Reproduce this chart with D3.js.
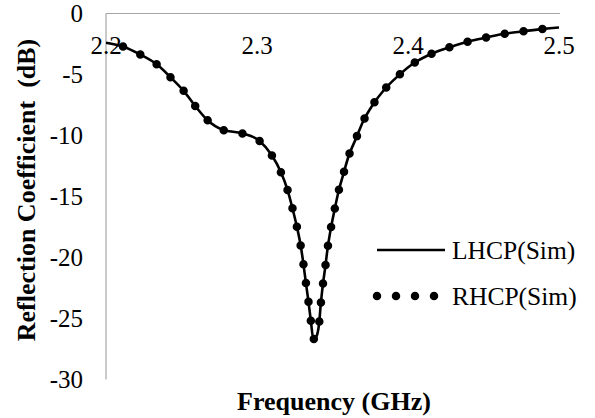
<!DOCTYPE html>
<html>
<head>
<meta charset="utf-8">
<script src="https://cdn.jsdelivr.net/npm/d3@7/dist/d3.min.js"></script>
<style>
  @font-face { font-family: "ChartSerif"; src: local("Liberation Serif"), local("LiberationSerif"), local("Times New Roman"); font-weight: normal; }
  @font-face { font-family: "ChartSerif"; src: local("Liberation Serif Bold"), local("LiberationSerif-Bold"), local("Times New Roman Bold"); font-weight: bold; }
</style>
</head>
<body style="margin:0;background:#fff">
<svg id="fig" width="595" height="418"></svg>
<script>
// ---- data ----
const freq = [2.2, 2.2115, 2.223, 2.2336, 2.2428, 2.2517, 2.2591, 2.2671, 2.2777, 2.2901,
  2.3015, 2.3097, 2.3157, 2.3201, 2.3234, 2.3263, 2.3288, 2.3307, 2.3323, 2.334,
  2.3356, 2.3373, 2.339, 2.3411, 2.3422, 2.3435, 2.3452, 2.3468, 2.3488, 2.3512,
  2.3538, 2.3572, 2.3607, 2.3654, 2.3704, 2.3766, 2.3841, 2.3929, 2.4028, 2.4137,
  2.4256, 2.4371, 2.4495, 2.4618, 2.4742, 2.4869, 2.5];
const lhcp = [-2.39, -2.72, -3.38, -4.16, -5.23, -6.38, -7.58, -8.73, -9.55, -9.82,
  -10.43, -11.6, -12.97, -14.41, -15.92, -17.42, -18.93, -20.48, -22.0, -23.54,
  -25.12, -26.68, -26.55, -25.45, -23.87, -22.34, -20.8, -19.21, -17.69, -16.19,
  -14.69, -13.16, -11.68, -10.29, -8.81, -7.5, -6.27, -5.18, -4.16, -3.4,
  -2.85, -2.39, -2.03, -1.70, -1.49, -1.30, -1.15];
const rhcp = lhcp.slice();
const xTicks = [2.2, 2.3, 2.4, 2.5];
const yTicks = [0, -5, -10, -15, -20, -25, -30];
const seriesNames = ["LHCP(Sim)", "RHCP(Sim)"];

// ---- layout ----
const svg = d3.select("#fig");
const mLeft = 106, mRight = 559, mTop = 13.5, mBottom = 379.5;
const x = d3.scaleLinear().domain([2.2, 2.5]).range([mLeft, mRight]);
const y = d3.scaleLinear().domain([-30, 0]).range([mBottom, mTop]);
const FAM = "'Liberation Serif', 'Times New Roman', Tinos, ChartSerif, serif";
const setFont = (sel, size, bold) => sel.style("font-family", FAM)
  .style("font-size", size + "px").style("font-weight", bold ? "bold" : "normal");

// axes lines (gray)
svg.append("line").attr("x1", mLeft).attr("x2", mRight + 1).attr("y1", y(0)).attr("y2", y(0))
  .attr("stroke", "#a6a6a6").attr("stroke-width", 1.2);
svg.append("line").attr("x1", mLeft).attr("x2", mLeft).attr("y1", mTop).attr("y2", mBottom)
  .attr("stroke", "#a6a6a6").attr("stroke-width", 1.2);

// y tick labels
setFont(svg.append("g").selectAll("text").data(yTicks).join("text")
  .attr("x", 83).attr("y", d => y(d) + 8.5).attr("text-anchor", "end"), 25, false)
  .text(d => String(d));

// x tick labels (below the 0 line)
setFont(svg.append("g").selectAll("text").data(xTicks).join("text")
  .attr("x", d => x(d)).attr("y", 54).attr("text-anchor", "middle"), 25, false)
  .text(d => d.toFixed(1));

// axis titles
setFont(svg.append("text").attr("transform", "translate(35,190) rotate(-90)")
  .attr("text-anchor", "middle"), 26, true)
  .style("white-space", "pre")
  .text("Reflection Coefficient  (dB)");
setFont(svg.append("text").attr("x", 334).attr("y", 410).attr("text-anchor", "middle"), 26, true)
  .text("Frequency (GHz)");

// series
const line = d3.line().x((d, i) => x(freq[i])).y(d => y(d)).curve(d3.curveMonotoneX);
svg.append("path").attr("d", line(lhcp)).attr("fill", "none")
  .attr("stroke", "#000").attr("stroke-width", 2.6);
svg.append("path").attr("d", line(rhcp)).attr("fill", "none")
  .attr("stroke", "#000").attr("stroke-width", 8.5).attr("stroke-linecap", "round")
  .attr("stroke-dasharray", "0 19").attr("stroke-dashoffset", 1.5);

// legend
const lg = svg.append("g");
lg.append("line").attr("x1", 377).attr("x2", 445).attr("y1", 250).attr("y2", 250)
  .attr("stroke", "#000").attr("stroke-width", 2.6);
lg.append("line").attr("x1", 377).attr("x2", 435).attr("y1", 296).attr("y2", 296)
  .attr("stroke", "#000").attr("stroke-width", 8.5).attr("stroke-linecap", "round")
  .attr("stroke-dasharray", "0 19");
setFont(lg.selectAll("text").data(seriesNames).join("text")
  .attr("x", 452).attr("y", (d, i) => 259 + i * 46), 25.5, false)
  .text(d => d);
</script>
</body>
</html>
